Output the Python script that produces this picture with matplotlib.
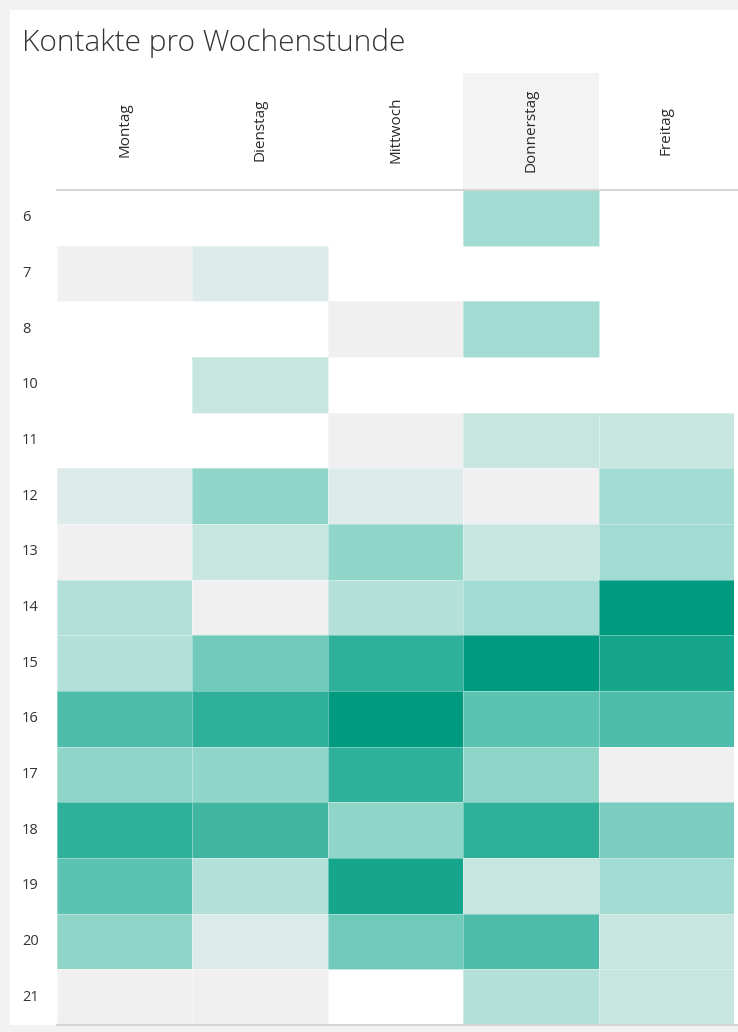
import numpy as np
import matplotlib
matplotlib.use('Agg')
import matplotlib.pyplot as plt
from matplotlib.colors import LinearSegmentedColormap
from matplotlib.patches import Rectangle
import matplotlib.transforms as mtransforms

# Daten: Kontakte pro Wochentag und Stunde (None = keine Kontakte)
tage = ['Montag', 'Dienstag', 'Mittwoch', 'Donnerstag', 'Freitag']
stunden = [6, 7, 8, 10, 11, 12, 13, 14, 15, 16, 17, 18, 19, 20, 21]

montag =     [None, 1, None, None, None, 2, 1, 4, 4, 10, 6, 12, 9, 6, 1]
dienstag =   [None, 2, None, 3, None, 6, 3, 1, 8, 12, 6, 11, 4, 2, 1]
mittwoch =   [None, None, 1, None, 1, 2, 6, 4, 12, 14, 12, 6, 13, 8, None]
donnerstag = [5, None, 5, None, 3, 1, 3, 5, 14, 9, 6, 12, 3, 10, 4]
freitag =    [None, None, None, None, 3, 5, 5, 14, 13, 10, 1, 7, 5, 3, 3]

farben = ['#f0f0f0', '#dcebea', '#c6e6df', '#b3e0d9', '#a2dbd1', '#8fd5c8', '#7bcdbf',
          '#6fcaba', '#5cc3b2', '#4dbcaa', '#40b6a2', '#2fb09b', '#17a58d', '#009a80']
cmap = LinearSegmentedColormap.from_list('teal', farben)

werte = np.array([montag, dienstag, mittwoch, donnerstag, freitag], dtype=float).T
werte = np.ma.masked_invalid(werte)

fig = plt.figure(figsize=(7.38, 10.32), dpi=100, facecolor='#f2f2f2')
fig.patches.append(Rectangle((10 / 738, 7 / 1032), 1, 1015 / 1032, transform=fig.transFigure,
                             facecolor='white', edgecolor='none', zorder=-5))

ax = fig.add_axes([57 / 738, 7 / 1032, 677 / 738, 835 / 1032])
ax.set_facecolor('none')
ax.pcolormesh(np.arange(len(tage) + 1) - 0.5, np.arange(len(stunden) + 1) - 0.5, werte,
              cmap=cmap, vmin=1, vmax=len(farben), edgecolors=(1, 1, 1, 0.35), linewidth=0.6)
ax.set_xlim(-0.5, len(tage) - 0.5)
ax.set_ylim(len(stunden) - 0.5, -0.5)
ax.set_xticks([])
ax.set_yticks([])
for s in ax.spines.values():
    s.set_visible(False)

# Spaltenkoepfe
trans_x = mtransforms.blended_transform_factory(ax.transData, ax.transAxes)
ax.add_patch(Rectangle((2.5, 1.0), 1, 117 / 835, transform=trans_x, facecolor='#f3f3f3',
                       edgecolor='none', clip_on=False, zorder=0))
for i, t in enumerate(tage):
    ax.text(i, 1 + 60 / 835, t, transform=trans_x, rotation=90, ha='center', va='center',
            fontsize=11, color='#2a2a2a', family='Open Sans')

# Zeilenbeschriftungen
trans_y = mtransforms.blended_transform_factory(ax.transAxes, ax.transData)
for j, h in enumerate(stunden):
    ax.text(-35 / 677, j, str(h), transform=trans_y, ha='left', va='center',
            fontsize=10.5, color='#333333', family='Open Sans')

# Linien oben und unten
ax.plot([0, 681 / 677], [1, 1], transform=ax.transAxes, color='#d6d6d6', lw=1.5, clip_on=False)
ax.plot([0, 681 / 677], [0, 0], transform=ax.transAxes, color='#d6d6d6', lw=1.5, clip_on=False)

fig.text(22 / 738, 1 - 43 / 1032, 'Kontakte pro Wochenstunde', ha='left', va='center',
         fontsize=21.5, color='#333333', family='Open Sans', fontweight='light')

fig.savefig('out.png', dpi=100, facecolor=fig.get_facecolor())
